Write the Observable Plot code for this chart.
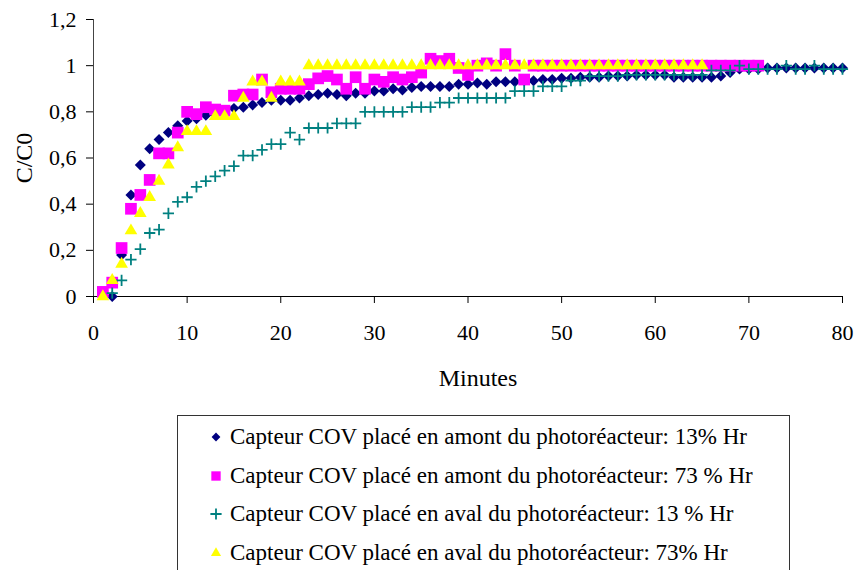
<!DOCTYPE html>
<html><head><meta charset="utf-8">
<script src="https://cdn.jsdelivr.net/npm/d3@7"></script>
<script src="https://cdn.jsdelivr.net/npm/@observablehq/plot@0.6"></script>
<style>
body{margin:0;background:#fff;font-family:"Liberation Serif","Times New Roman",serif;}
#wrap{position:relative;width:856px;height:570px;overflow:hidden;background:#fff;}
#legend{position:absolute;left:177px;top:415px;width:613px;height:170px;border:1px solid #333;box-sizing:border-box;background:#fff;}
.row{position:absolute;left:30px;height:38px;display:flex;align-items:center;font-size:23px;color:#000;white-space:nowrap;}
.row svg{margin-right:6px;}
g[aria-label="y-axis label"] text{font-size:24px;}
</style></head><body><div id="wrap"></div>
<script>
// Series values, one per minute starting at the given minute
const xTicks = [0, 10, 20, 30, 40, 50, 60, 70, 80];
const yTicks = [0, 0.2, 0.4, 0.6, 0.8, 1, 1.2];
const xLabel = "Minutes";
const yLabel = "C/C0";

const names = [
  "Capteur COV placé en amont du photoréacteur: 13% Hr",
  "Capteur COV placé en amont du photoréacteur: 73 % Hr",
  "Capteur COV placé en aval du photoréacteur: 13 % Hr",
  "Capteur COV placé en aval du photoréacteur: 73% Hr"
];

const startAmont13 = 2;
const amont13 = [0, 0.18, 0.44, 0.57, 0.64, 0.68, 0.71, 0.74, 0.76, 0.77,
  0.785, 0.79, 0.80, 0.815, 0.82, 0.83, 0.84, 0.85, 0.85, 0.85,
  0.86, 0.87, 0.875, 0.88, 0.875, 0.87, 0.88, 0.88, 0.89, 0.89,
  0.90, 0.895, 0.905, 0.91, 0.91, 0.91, 0.91, 0.92, 0.92, 0.925,
  0.92, 0.93, 0.93, 0.93, 0.935, 0.935, 0.94, 0.94, 0.945, 0.945,
  0.95, 0.95, 0.95, 0.955, 0.955, 0.955, 0.96, 0.96, 0.96, 0.96,
  0.95, 0.95, 0.95, 0.95, 0.95, 0.955, 0.97, 0.985, 0.985, 0.985,
  0.99, 0.99, 0.99, 0.99, 0.99, 0.99, 0.99, 0.99, 0.99];

const startAmont73 = 1;
const amont73 = [0.02, 0.06, 0.21, 0.38, 0.44, 0.505, 0.62, 0.62, 0.71, 0.80,
  0.79, 0.82, 0.81, 0.805, 0.87, 0.875, 0.875, 0.94, 0.885, 0.90,
  0.90, 0.90, 0.92, 0.945, 0.955, 0.94, 0.90, 0.95, 0.90, 0.94,
  0.93, 0.95, 0.94, 0.95, 0.97, 1.03, 1.02, 1.03, 0.99, 0.96,
  1.0, 1.01, 1.0, 1.05, 1.0, 0.94, 1.0, 1.0, 1.0, 1.0,
  1.0, 1.0, 1.0, 1.0, 1.0, 1.0, 1.0, 1.0, 1.0, 1.0,
  1.0, 1.0, 1.0, 1.0, 1.0, 1.0, 1.0, 1.0, 1.0, 1.0, 1.0];

const startAval13 = 2;
const aval13 = [0.015, 0.07, 0.16, 0.205, 0.275, 0.29, 0.36, 0.41, 0.43, 0.475,
  0.50, 0.52, 0.545, 0.565, 0.61, 0.61, 0.635, 0.66, 0.66, 0.71,
  0.68, 0.73, 0.73, 0.73, 0.75, 0.75, 0.75, 0.80, 0.80, 0.80,
  0.80, 0.80, 0.82, 0.82, 0.82, 0.84, 0.84, 0.86, 0.86, 0.86,
  0.86, 0.86, 0.86, 0.89, 0.89, 0.89, 0.91, 0.91, 0.91, 0.935,
  0.935, 0.955, 0.955, 0.955, 0.955, 0.96, 0.96, 0.96, 0.96, 0.96,
  0.96, 0.96, 0.96, 0.96, 0.98, 0.98, 0.98, 1.0, 0.985, 0.985,
  0.985, 0.985, 1.0, 0.985, 0.985, 1.0, 0.985, 0.985, 0.985];

const startAval73 = 1;
const aval73 = [0, 0.07, 0.14, 0.285, 0.36, 0.43, 0.50, 0.57, 0.645, 0.715,
  0.715, 0.715, 0.78, 0.78, 0.78, 0.86, 0.93, 0.93, 0.86, 0.93,
  0.93, 0.93, 1.0, 1.0, 1.0, 1.0, 1.0, 1.0, 1.0, 1.0,
  1.0, 1.0, 1.0, 1.0, 1.0, 1.0, 1.0, 1.0, 1.0, 1.0,
  1.0, 1.0, 1.0, 1.0, 1.0, 1.0, 1.0, 1.0, 1.0, 1.0,
  1.0, 1.0, 1.0, 1.0, 1.0, 1.0, 1.0, 1.0, 1.0, 1.0,
  1.0, 1.0, 1.0, 1.0, 1.0];

const colors = ["#000080", "#FF00FF", "#008080", "#FFFF00"];
const symbols = ["diamond2", "square", "plus", "triangle"];
const radii = [4.95, 6.6, 3.7, 4.7];

const series = [
  {start: startAmont13, values: amont13},
  {start: startAmont73, values: amont73},
  {start: startAval13, values: aval13},
  {start: startAval73, values: aval73}
].map((s, k) => ({
  ...s, name: names[k], color: colors[k], symbol: symbols[k], r: radii[k],
  data: s.values.map((v, i) => ({minute: s.start + i, value: v}))
}));

const fmt = d => String(d).replace(".", ",");

const dotMarks = series.map(s => s.symbol === "plus"
  ? Plot.dot(s.data, {x: "minute", y: "value", symbol: () => "plus", r: s.r, stroke: s.color, strokeWidth: 1.8})
  : Plot.dot(s.data, {x: "minute", y: "value", symbol: () => s.symbol, r: s.r, fill: s.color, stroke: "none"}));

const chart = Plot.plot({
  width: 856, height: 400,
  marginLeft: 93, marginRight: 14, marginTop: 19, marginBottom: 104,
  style: {fontFamily: "Liberation Serif, Times New Roman, serif", fontSize: "22px", color: "#000", background: "#fff", overflow: "visible"},
  x: {domain: [0, 80]},
  y: {domain: [0, 1.2]},
  symbol: {type: "identity"},
  marks: [
    Plot.axisX({ticks: xTicks, tickSize: 7, tickPadding: 21, tickFormat: fmt, label: null}),
    Plot.axisY({ticks: yTicks, tickSize: 7, tickPadding: 10, tickFormat: fmt, label: yLabel, labelAnchor: "center", labelArrow: "none", labelOffset: 79}),
    Plot.text([xLabel], {frameAnchor: "bottom", dy: 82, dx: 10, fontSize: 24, lineAnchor: "middle"}),
    Plot.ruleX([0], {stroke: "#444"}),
    Plot.ruleY([0], {stroke: "#000"}),
    ...dotMarks
  ]
});

const wrap = document.getElementById("wrap");
wrap.appendChild(chart);

// legend
const legend = document.createElement("div");
legend.id = "legend";
const legendScale = 0.8;
series.forEach((s, k) => {
  const row = document.createElement("div");
  row.className = "row";
  row.style.top = (2 + k * 38.5) + "px";
  const sz = Math.PI * (s.r * legendScale) ** 2;
  const symType = {diamond2: d3.symbolDiamond2, square: d3.symbolSquare, plus: d3.symbolPlus, triangle: d3.symbolTriangle}[s.symbol];
  const path = d3.symbol(symType, s.symbol === "plus" ? Math.PI * s.r * s.r : sz)();
  const svg = d3.create("svg").attr("width", 16).attr("height", 16).attr("viewBox", "-8 -8 16 16");
  const p = svg.append("path").attr("d", path);
  if (s.symbol === "plus") p.attr("fill", "none").attr("stroke", s.color).attr("stroke-width", 1.8);
  else p.attr("fill", s.color);
  row.appendChild(svg.node());
  row.appendChild(document.createTextNode(s.name));
  legend.appendChild(row);
});
wrap.appendChild(legend);
</script></body></html>
